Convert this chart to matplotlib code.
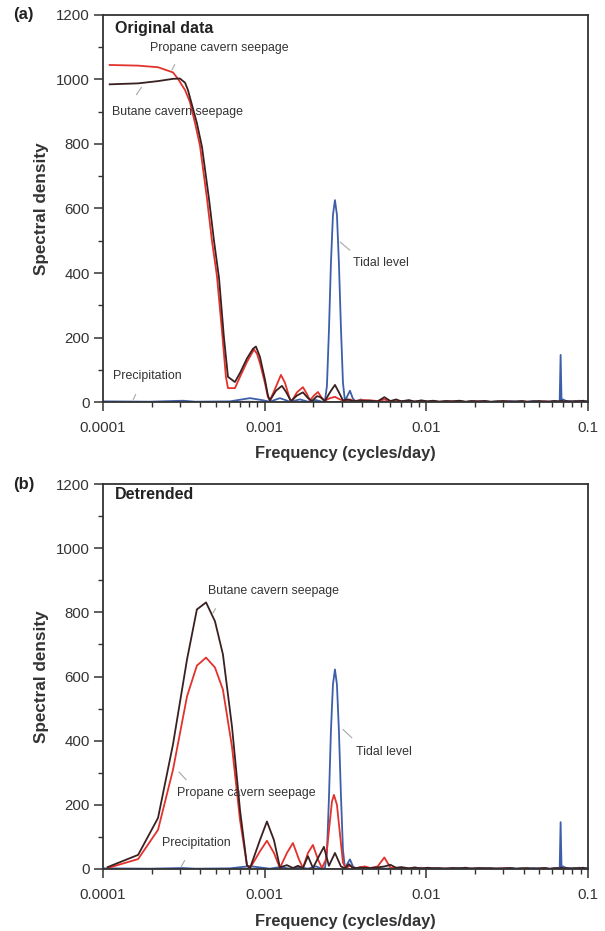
import numpy as np
import matplotlib.pyplot as plt

plt.rcParams['font.family'] = ['Liberation Sans', 'DejaVu Sans']

# ---- (a) original data: low-frequency part ----
prop_a_f = [1.10e-4, 1.65e-4, 2.19e-4, 2.71e-4, 2.91e-4, 3.22e-4, 3.45e-4, 3.71e-4, 3.98e-4,
            4.40e-4, 4.72e-4, 5.07e-4, 5.44e-4, 5.76e-4, 5.93e-4, 6.55e-4, 7.04e-4, 7.77e-4,
            8.35e-4, 8.59e-4, 8.96e-4, 9.35e-4, 1.004e-3, 1.048e-3, 1.078e-3, 1.158e-3, 1.261e-3,
            1.335e-3, 1.434e-3, 1.476e-3, 1.584e-3, 1.725e-3, 1.826e-3, 1.906e-3, 2.018e-3,
            2.136e-3, 2.262e-3, 2.36e-3, 2.534e-3, 2.722e-3, 2.922e-3, 3.138e-3, 3.37e-3,
            3.618e-3, 4.0e-3]
prop_a_v = [1045, 1043, 1038, 1022, 1002, 967, 930, 865, 795,
            630, 500, 390, 223, 78, 43, 43, 78, 124,
            152, 163, 150, 121, 59, 15, 5, 40, 84,
            60, 8, 4, 30, 46, 25, 5, 20,
            31, 12, 4, 12, 16, 8, 2, 8,
            3, 6]

but_a_f = [1.10e-4, 1.65e-4, 2.19e-4, 2.71e-4, 2.99e-4, 3.22e-4, 3.355e-4, 3.81e-4, 4.10e-4,
           4.525e-4, 4.86e-4, 5.22e-4, 5.60e-4, 5.93e-4, 6.55e-4, 7.04e-4, 7.77e-4, 8.47e-4,
           8.83e-4, 9.35e-4, 1.004e-3, 1.048e-3, 1.078e-3, 1.175e-3, 1.279e-3, 1.354e-3,
           1.455e-3, 1.584e-3, 1.725e-3, 1.853e-3, 1.961e-3, 2.106e-3, 2.198e-3, 2.36e-3,
           2.534e-3, 2.722e-3, 2.88e-3, 3.05e-3, 3.275e-3, 3.466e-3, 4.0e-3]
but_a_v = [985, 988, 995, 1002, 1003, 990, 967, 865, 790,
           630, 500, 385, 200, 78, 62, 90, 135, 165,
           172, 140, 70, 20, 5, 35, 50, 32,
           3, 20, 30, 12, 3, 18, 16, 3,
           30, 53, 30, 5, 8, 3, 4]

tide_f = [1.0e-4, 1.953e-4, 3.125e-4, 3.71e-4, 6.1e-4, 8.11e-4, 9.62e-4, 1.078e-3, 1.243e-3,
          1.434e-3, 1.653e-3, 1.853e-3, 2.076e-3, 2.262e-3, 2.36e-3, 2.428e-3, 2.498e-3,
          2.57e-3, 2.645e-3, 2.722e-3, 2.80e-3, 2.88e-3, 2.964e-3, 3.05e-3, 3.138e-3,
          3.37e-3, 3.516e-3, 3.67e-3, 3.94e-3, 4.17e-3]
tide_a_v = [2, 1, 4, 1, 2, 12, 6, 1, 12,
            1, 8, 1, 6, 1, 3, 50, 220,
            430, 580, 626, 580, 430, 230, 60, 3,
            35, 10, 2, 8, 1]

# ---- (b) detrended: low-frequency part ----
but_b_f = [1.07e-4, 1.65e-4, 2.19e-4, 2.71e-4, 3.31e-4, 3.81e-4, 4.34e-4, 4.93e-4, 5.52e-4,
           6.28e-4, 7.04e-4, 7.77e-4, 8.11e-4, 9.35e-4, 1.033e-3, 1.142e-3, 1.243e-3,
           1.373e-3, 1.496e-3, 1.607e-3, 1.725e-3, 1.853e-3, 1.989e-3, 2.167e-3, 2.326e-3,
           2.498e-3, 2.722e-3, 2.964e-3, 3.138e-3, 3.32e-3, 3.516e-3, 4.0e-3]
but_b_v = [6, 44, 159, 388, 653, 809, 831, 772, 669,
           444, 184, 12, 2, 90, 148, 90, 5,
           12, 3, 10, 3, 40, 3, 40, 69,
           10, 50, 8, 2, 15, 3, 4]

prop_b_f = [1.07e-4, 1.65e-4, 2.19e-4, 2.71e-4, 3.31e-4, 3.81e-4, 4.34e-4, 4.93e-4, 5.52e-4,
            6.28e-4, 7.04e-4, 7.77e-4, 8.11e-4, 9.35e-4, 1.033e-3, 1.142e-3, 1.243e-3,
            1.373e-3, 1.496e-3, 1.63e-3, 1.725e-3, 1.853e-3, 1.989e-3, 2.136e-3, 2.262e-3,
            2.394e-3, 2.498e-3, 2.607e-3, 2.683e-3, 2.80e-3, 2.922e-3, 3.05e-3, 3.18e-3,
            3.37e-3, 3.618e-3, 4.17e-3]
prop_b_v = [3, 31, 122, 309, 538, 634, 659, 628, 559,
            381, 153, 12, 2, 55, 88, 50, 3,
            50, 81, 30, 3, 50, 75, 30, 3,
            30, 120, 210, 231, 200, 110, 20, 3,
            10, 2, 8]

tide_b_v = [2, 1, 3, 1, 2, 9, 4, 1, 6,
            1, 5, 1, 8, 1, 3, 50, 220,
            430, 575, 622, 575, 430, 230, 60, 3,
            30, 8, 2, 6, 1]

precip_f = [1.0e-4, 1.5e-4, 2.2e-4, 3.0e-4, 4.5e-4, 6.0e-4, 8.0e-4, 1.0e-3, 1.3e-3, 1.7e-3,
            2.2e-3, 2.8e-3, 3.5e-3, 4.2e-3]
precip_v = [0, 1, 0, 1, 0, 1, 2, 1, 0, 1, 0, 1, 0, 1]

# ---- high-frequency tail shared by all series ----
tail_f = [0.0045, 0.005, 0.0055, 0.006, 0.0065, 0.007, 0.0078, 0.0085, 0.0093, 0.0102,
          0.011, 0.012, 0.0132, 0.0145, 0.016, 0.0175, 0.019, 0.021, 0.023, 0.025,
          0.0275, 0.03, 0.033, 0.036, 0.039, 0.042, 0.046, 0.05, 0.054, 0.058,
          0.062, 0.065, 0.0668, 0.0677, 0.0686, 0.07, 0.074, 0.078, 0.083, 0.088,
          0.093, 0.098, 0.1]
tide_tail = [1, 3, 1, 2, 0, 3, 1, 2, 4, 1, 3, 0, 2, 1, 3, 0, 2, 1, 3, 0,
             2, 1, 3, 1, 2, 0, 3, 1, 2, 0, 3, 2, 2, 146, 3, 8, 2, 3, 1, 4, 2, 3, 1]
but_a_tail = [4, 2, 15, 3, 8, 2, 6, 1, 5, 2, 4, 1, 3, 2, 4, 1, 3, 2, 3, 1,
              2, 3, 1, 2, 3, 1, 2, 3, 1, 2, 3, 2, 2, 3, 4, 2, 3, 1, 3, 2, 4, 1, 2]
prop_a_tail = [5, 3, 8, 2, 3, 1, 2, 1, 2, 1, 2, 1, 1, 2, 1, 0, 1, 2, 1, 0,
               1, 2, 1, 0, 1, 1, 0, 1, 2, 0, 1, 1, 1, 2, 1, 1, 0, 1, 0, 1, 1, 0, 1]
but_b_tail = [3, 5, 8, 13, 4, 6, 2, 5, 1, 4, 2, 3, 1, 3, 2, 4, 1, 3, 2, 3,
              1, 2, 3, 1, 2, 3, 1, 2, 3, 1, 2, 3, 2, 3, 4, 2, 3, 1, 3, 2, 4, 1, 2]
prop_b_tail = [3, 8, 36, 4, 3, 1, 2, 1, 2, 1, 2, 1, 1, 2, 1, 0, 1, 2, 1, 0,
               1, 2, 1, 0, 1, 1, 0, 1, 2, 0, 1, 1, 1, 2, 1, 1, 0, 1, 0, 1, 1, 0, 1]
precip_tail = [0, 1, 0, 1, 0, 1, 0, 0, 1, 0, 1, 0, 0, 1, 0, 0, 1, 0, 0, 1,
               0, 0, 1, 0, 0, 1, 0, 0, 1, 0, 0, 1, 0, 0, 1, 0, 0, 1, 0, 0, 1, 0, 0]

RED = '#e2322c'
DARK = '#3a2020'
BLUE = '#3d5ea9'
PREC = '#8a8aa0'
GREY = '#a8a8a8'
INK = '#333333'

panels = [
    dict(pos=[0.1702, 0.5682, 0.8017, 0.4157], tag='(a)', tag_y=0.9839, title='Original data',
         title_y=0.966, xlab_y=-0.114,
         prop=(prop_a_f, prop_a_v, prop_a_tail), but=(but_a_f, but_a_v, but_a_tail),
         tide=(tide_a_v,),
         notes=[('Propane cavern seepage', 1.953e-4, 1098, (2.83e-4, 1054), (2.62e-4, 1022)),
                ('Butane cavern seepage', 1.137e-4, 899, (1.577e-4, 946), (1.768e-4, 983)),
                ('Tidal level', 3.516e-3, 431, (2.84e-3, 502), (3.466e-3, 465)),
                ('Precipitation', 1.153e-4, 81, (1.511e-4, 0), (1.623e-4, 31))]),
    dict(pos=[0.1702, 0.0666, 0.8017, 0.4135], tag='(b)', tag_y=0.4801, title='Detrended',
         title_y=0.974, xlab_y=-0.117,
         prop=(prop_b_f, prop_b_v, prop_b_tail), but=(but_b_f, but_b_v, but_b_tail),
         tide=(tide_b_v,),
         notes=[('Butane cavern seepage', 4.46e-4, 866, (4.66e-4, 788), (5.07e-4, 819)),
                ('Propane cavern seepage', 2.87e-4, 238, (2.87e-4, 309), (3.355e-4, 272)),
                ('Tidal level', 3.67e-3, 366, (2.964e-3, 441), (3.566e-3, 403)),
                ('Precipitation', 2.317e-4, 81, (2.994e-4, 0), (3.26e-4, 34))]),
]

fig = plt.figure(figsize=(6.05, 9.31), dpi=100)

for p in panels:
    ax = fig.add_axes(p['pos'])
    ax.plot(precip_f + tail_f, precip_v + precip_tail, color=PREC, lw=0.9)
    ax.plot(tide_f + tail_f, p['tide'][0] + tide_tail, color=BLUE, lw=1.3)
    ax.plot(p['prop'][0] + tail_f, p['prop'][1] + p['prop'][2], color=RED, lw=1.3)
    ax.plot(p['but'][0] + tail_f, p['but'][1] + p['but'][2], color=DARK, lw=1.3)

    ax.set_xscale('log')
    ax.set_xlim(1e-4, 0.1)
    ax.set_ylim(0, 1200)
    ax.set_yticks(np.arange(0, 1201, 200))
    ax.set_yticks(np.arange(100, 1200, 200), minor=True)
    ax.set_xticks([1e-4, 1e-3, 1e-2, 1e-1])
    ax.set_xticklabels(['0.0001', '0.001', '0.01', '0.1'])
    ax.tick_params(which='major', length=6.5, width=1.1, color=INK, labelcolor=INK, labelsize=10.8)
    ax.tick_params(which='minor', length=3.5, width=1.0, color=INK)
    ax.tick_params(axis='x', which='major', pad=7)
    ax.tick_params(axis='y', which='major', pad=3)
    for s in ax.spines.values():
        s.set_linewidth(1.3)
        s.set_color(INK)

    ax.set_ylabel('Spectral density', fontsize=12.3, fontweight='bold', color=INK)
    ax.yaxis.set_label_coords(-0.112, 0.5)
    ax.set_xlabel('Frequency (cycles/day)', fontsize=11.8, fontweight='bold', color=INK)
    ax.xaxis.set_label_coords(0.5, p['xlab_y'])

    ax.text(0.024, p['title_y'], p['title'], transform=ax.transAxes, fontsize=11.5,
            fontweight='bold', color='#222222', ha='left', va='center')
    fig.text(0.021, p['tag_y'], p['tag'], fontsize=12, fontweight='bold', color='#222222',
             ha='left', va='center')

    for txt, tx, ty, a, b in p['notes']:
        ax.text(tx, ty, txt, fontsize=8.9, color=INK, ha='left', va='center')
        ax.annotate('', xy=b, xytext=a,
                    arrowprops=dict(arrowstyle='-', color=GREY, lw=0.8))

fig.savefig('out.png', dpi=100)
